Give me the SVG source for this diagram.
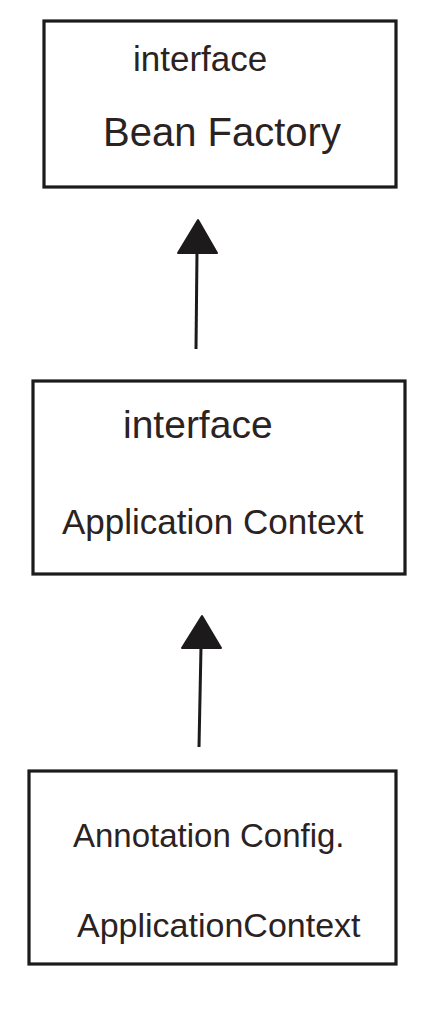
<svg xmlns="http://www.w3.org/2000/svg" width="425" height="1014" viewBox="0 0 425 1014">
<style>
.box{fill:#fff;stroke:#1c1a1a;stroke-width:3.2}
.t{font-family:"Liberation Sans","DejaVu Sans",sans-serif;fill:#2b2222}
.edge{stroke:#1c1a1a;stroke-width:3;fill:none}
.head{fill:#1c1a1a;stroke:#1c1a1a;stroke-width:2;stroke-linejoin:round}
</style>
<rect width="425" height="1014" fill="#fff"/>
<g id="bean-factory">
<rect class="box" x="44" y="21" width="352" height="166"/>
<text class="t" x="133" y="71" font-size="35">interface</text>
<text class="t" x="103" y="146" font-size="40">Bean Factory</text>
</g>
<g id="application-context">
<rect class="box" x="33" y="381" width="372" height="193"/>
<text class="t" x="123" y="438" font-size="39">interface</text>
<text class="t" x="62" y="534" font-size="35">Application Context</text>
</g>
<g id="annotation-config-application-context">
<rect class="box" x="29" y="771" width="367" height="193"/>
<text class="t" x="73" y="847" font-size="33">Annotation Config.</text>
<text class="t" x="77" y="937" font-size="34">ApplicationContext</text>
</g>
<g id="connectors">
<line class="edge" x1="196" y1="349" x2="197" y2="252"/>
<polygon class="head" points="198,220 178,253 217,253"/>
<line class="edge" x1="199" y1="747" x2="201" y2="647"/>
<polygon class="head" points="202,616 182,648 221,648"/>
</g>
</svg>
